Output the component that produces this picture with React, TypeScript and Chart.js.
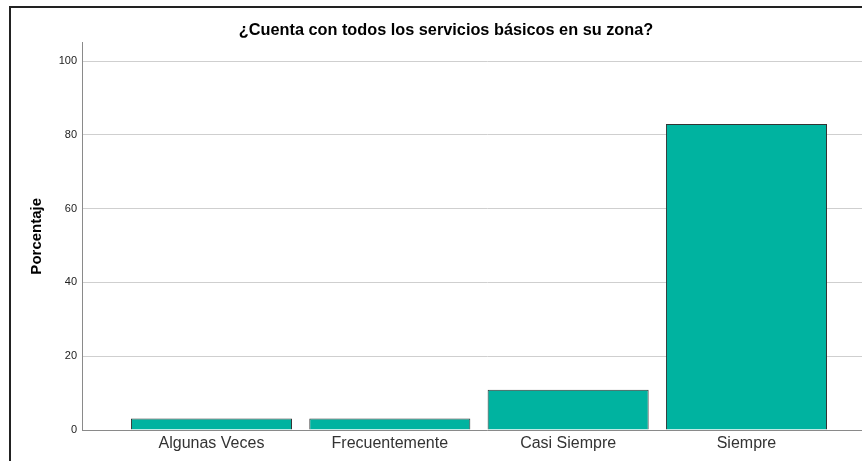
import React, { useEffect, useRef } from "react";
import { Chart, registerables } from "chart.js";

Chart.register(...registerables);

const title = "¿Cuenta con todos los servicios básicos en su zona?";
const yAxisTitle = "Porcentaje";
const categories = ["Algunas Veces", "Frecuentemente", "Casi Siempre", "Siempre"];
const percentages = [3.1, 3.1, 10.9, 82.9];
const yTicksStep = 20;
const yMax = 105;

const FONT = "'Liberation Sans', Arial, Helvetica, sans-serif";

export default function App() {
  const ref = useRef<HTMLCanvasElement | null>(null);

  useEffect(() => {
    const canvas = ref.current;
    if (!canvas) return;
    const chart = new Chart(canvas, {
      type: "bar",
      data: {
        datasets: [
          {
            data: percentages.map((v, i) => ({ x: i, y: v })),
            backgroundColor: "#00b3a0",
            borderColor: "#333",
            borderWidth: 1,
            categoryPercentage: 1,
            barPercentage: 0.903,
          },
        ],
      },
      options: {
        responsive: false,
        animation: false,
        layout: { padding: 0 },
        plugins: {
          legend: { display: false },
          tooltip: { enabled: false },
          title: {
            display: true,
            text: title,
            color: "#000",
            font: { family: FONT, size: 16.3, weight: "bold" },
            padding: { top: 21, bottom: 2 },
          },
        },
        scales: {
          x: {
            type: "linear",
            offset: false,
            min: -0.726,
            max: 3.816,
            grid: { display: false, drawTicks: false },
            border: { display: true, color: "#8a8a8a", width: 1 },
            ticks: {
              stepSize: 1,
              includeBounds: false,
              autoSkip: false,
              maxRotation: 0,
              padding: 4,
              color: "#333",
              font: { family: FONT, size: 16 },
              callback: (v: any) => {
                const n = Number(v);
                return Number.isInteger(n) && n >= 0 && n < categories.length ? categories[n] : "";
              },
            },
            afterFit: (s: any) => {
              s.height = 31;
            },
          },
          y: {
            min: 0,
            max: yMax,
            grid: { color: "#cfcfcf", lineWidth: 1, drawTicks: false },
            border: { display: true, color: "#8a8a8a", width: 1 },
            ticks: {
              stepSize: yTicksStep,
              includeBounds: false,
              padding: 5,
              color: "#222",
              font: { family: FONT, size: 11 },
            },
            title: {
              display: true,
              text: yAxisTitle,
              color: "#000",
              font: { family: FONT, size: 15, weight: "bold" },
              padding: { top: 28, bottom: 0 },
            },
            afterFit: (s: any) => {
              s.width = 82;
            },
          },
        },
      },
    });
    return () => chart.destroy();
  }, []);

  return (
    <div
      style={{
        position: "fixed",
        left: 0,
        top: 0,
        width: 862,
        height: 461,
        overflow: "hidden",
        background: "#fff",
      }}
    >
      <canvas ref={ref} width={892} height={461} style={{ width: 892, height: 461, display: "block" }} />
      <div
        style={{
          position: "absolute",
          left: 9,
          top: 6,
          width: 1000,
          height: 1000,
          borderLeft: "2px solid #222",
          borderTop: "2px solid #222",
          pointerEvents: "none",
        }}
      />
    </div>
  );
}
